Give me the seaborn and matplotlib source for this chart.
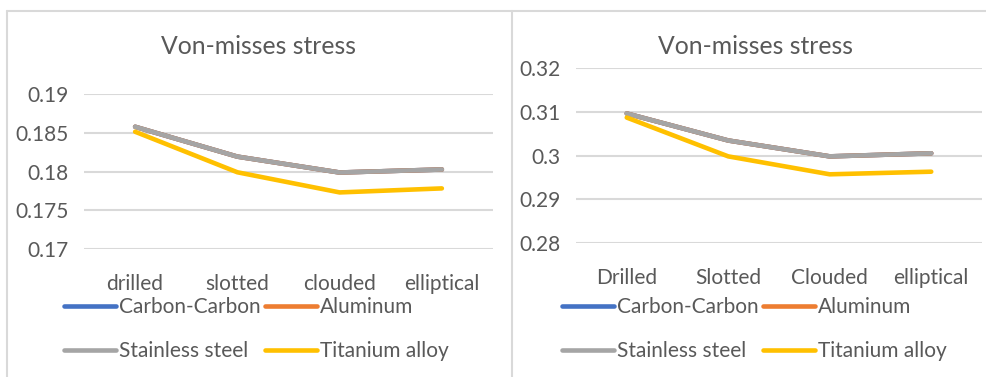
import numpy as np
import pandas as pd
import matplotlib
matplotlib.use("Agg")
import matplotlib.pyplot as plt
from matplotlib.lines import Line2D
import seaborn as sns

# dati
forme_sx = ['drilled', 'slotted', 'clouded', 'elliptical']
forme_dx = ['Drilled', 'Slotted', 'Clouded', 'elliptical']
materiali = ['Carbon-Carbon', 'Aluminum', 'Stainless steel', 'Titanium alloy']

cc_sx = [0.18577, 0.18192, 0.17987, 0.18026]
al_sx = [0.18577, 0.18192, 0.17987, 0.18026]
ss_sx = [0.18577, 0.18192, 0.17987, 0.18026]
ti_sx = [0.18513, 0.17990, 0.17730, 0.17782]

cc_dx = [0.30960, 0.30343, 0.29980, 0.30050]
al_dx = [0.30960, 0.30343, 0.29980, 0.30050]
ss_dx = [0.30960, 0.30343, 0.29980, 0.30050]
ti_dx = [0.30867, 0.29980, 0.29570, 0.29630]

colori = ['#4472C4', '#ED7D31', '#A5A5A5', '#FFC000']
testo = '#595959'
griglia = '#D9D9D9'

sns.set_style('white')
plt.rcParams['font.family'] = ['Lato', 'DejaVu Sans']

W, H = 987, 377
fig = plt.figure(figsize=(W / 100, H / 100), dpi=100)


def tabella(forme, serie):
    righe = []
    for mat, valori in zip(materiali, serie):
        for f, v in zip(forme, valori):
            righe.append({'forma': f, 'materiale': mat, 'stress': v})
    return pd.DataFrame(righe)


def pannello(rect, forme, serie, ylim, yticks, fmt, titolo_x, leg_x):
    x0, y0, x1, y1 = rect
    ax = fig.add_axes([x0 / W, 1 - y1 / H, (x1 - x0) / W, (y1 - y0) / H])
    df = tabella(forme, serie)
    sns.lineplot(data=df, x='forma', y='stress', hue='materiale',
                 hue_order=materiali, palette=colori, sort=False,
                 linewidth=3.3, ax=ax, legend=False)
    for ln in ax.lines:
        ln.set_solid_capstyle('round')
        ln.set_solid_joinstyle('round')
    ax.set_xlim(-0.5, 3.5)
    ax.set_ylim(*ylim)
    ax.set_yticks(yticks)
    ax.set_yticklabels([fmt(t) for t in yticks])
    ax.set_xlabel('')
    ax.set_ylabel('')
    for s in ax.spines.values():
        s.set_visible(False)
    ax.yaxis.grid(True, color=griglia, linewidth=1.5)
    ax.set_axisbelow(True)
    ax.tick_params(axis='y', length=0, pad=11, labelsize=15, labelcolor=testo)
    ax.tick_params(axis='x', length=0, pad=18, labelsize=15, labelcolor=testo)
    fig.text(titolo_x / W, 1 - 47 / H, 'Von-misses stress', ha='center',
             va='center', fontsize=17.8, color=testo)
    handles = [Line2D([0], [0], color=c, linewidth=3.3, solid_capstyle='round')
               for c in colori]
    # matplotlib riempie per colonne: riordino per avere le righe come in Excel
    ordine = [0, 2, 1, 3]
    fig.legend([handles[i] for i in ordine], [materiali[i] for i in ordine],
               ncol=2, loc='upper left',
               bbox_to_anchor=(leg_x / W, 1 - 297 / H), frameon=False,
               fontsize=15, labelcolor=testo, handlelength=2.5,
               handletextpad=0.15, columnspacing=0.2, labelspacing=1.17,
               borderpad=0, borderaxespad=0)
    return ax


def fmt_sx(t):
    return f'{t:.3f}'.rstrip('0')


def fmt_dx(t):
    return f'{t:.2f}'.rstrip('0').rstrip('.')


pannello((84, 94, 493, 249), forme_sx, [cc_sx, al_sx, ss_sx, ti_sx],
         (0.17, 0.19), [0.17, 0.175, 0.18, 0.185, 0.19], fmt_sx, 259, 64)
pannello((576, 68, 982, 243), forme_dx, [cc_dx, al_dx, ss_dx, ti_dx],
         (0.28, 0.32), [0.28, 0.29, 0.30, 0.31, 0.32], fmt_dx, 756, 562)

# cornici dei grafici
for seg in [((7, 987), (11, 11)), ((7, 7), (11, 377)), ((512, 512), (11, 377))]:
    xs = [v / W for v in seg[0]]
    ys = [1 - v / H for v in seg[1]]
    fig.add_artist(Line2D(xs, ys, color=griglia, linewidth=1.5))

fig.savefig('out.png', dpi=100)
